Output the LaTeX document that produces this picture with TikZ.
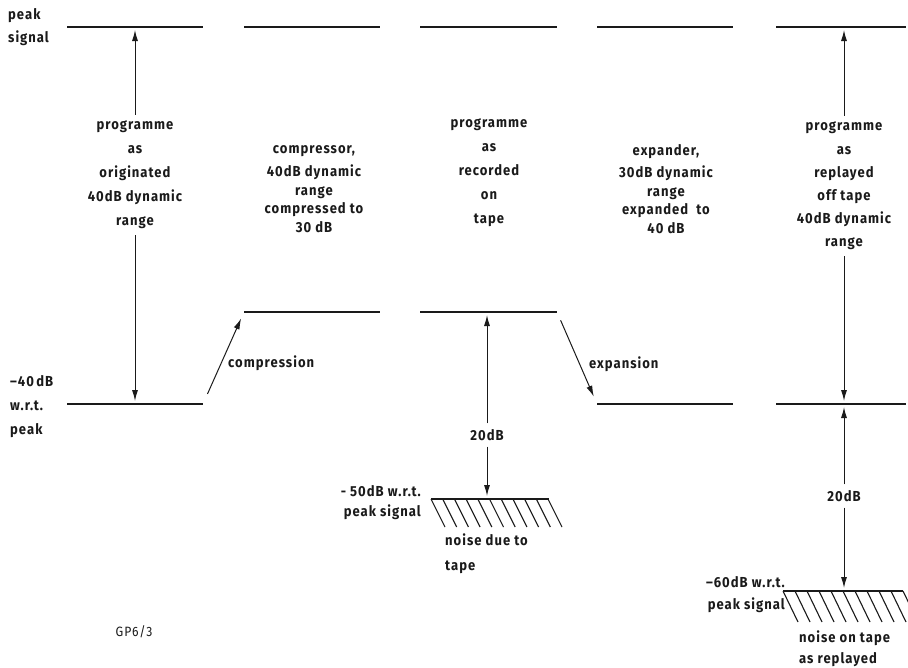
\documentclass[tikz,border=0pt]{standalone}
\usepackage{fontspec}
\setmainfont{Fira Sans}[LetterSpace=7,FakeStretch=0.9]
\usetikzlibrary{arrows.meta,calc}
\definecolor{ink}{HTML}{1A1A1A}
\begin{document}
\begin{tikzpicture}[x=1pt,y=-1pt,
  lvl/.style={draw=ink,line width=1.6pt},
  arr/.style={draw=ink,line width=1pt,-{Latex[length=11pt,width=6pt]}},
  hatch/.style={draw=ink,line width=1.1pt},
  lbl/.style={text=ink,font=\bfseries\fontsize{14.5}{24}\selectfont,inner sep=0pt},
  gap/.style={outer sep=6pt}]
\useasboundingbox (0,0) rectangle (908,667);
% level coordinates
\coordinate (T1a) at (67,27);  \coordinate (T1b) at (203,27);
\coordinate (T2a) at (244,27); \coordinate (T2b) at (380,27);
\coordinate (T3a) at (420,27); \coordinate (T3b) at (557,27);
\coordinate (T4a) at (597,27); \coordinate (T4b) at (733,27);
\coordinate (T5a) at (776,27); \coordinate (T5b) at (906,27);
\coordinate (M2a) at (244,312); \coordinate (M2b) at (380,312);
\coordinate (M3a) at (420,312); \coordinate (M3b) at (557,312);
\coordinate (B1a) at (67,404);  \coordinate (B1b) at (203,404);
\coordinate (B4a) at (597,404); \coordinate (B4b) at (733,404);
\coordinate (B5a) at (776,404); \coordinate (B5b) at (906,404);
\coordinate (N1a) at (431,499); \coordinate (N1b) at (549,499);
\coordinate (N2a) at (783,591); \coordinate (N2b) at (903,591);
\draw[lvl] (T1a) -- (T1b);
\draw[lvl] (T2a) -- (T2b);
\draw[lvl] (T3a) -- (T3b);
\draw[lvl] (T4a) -- (T4b);
\draw[lvl] (T5a) -- (T5b);
\draw[lvl] (M2a) -- (M2b);
\draw[lvl] (M3a) -- (M3b);
\draw[lvl] (B1a) -- (B1b);
\draw[lvl] (B4a) -- (B4b);
\draw[lvl] (B5a) -- (B5b);
% noise hatching
\draw[hatch] (N1a) -- (N1b);
\foreach \i in {0,...,10} \draw[hatch] ($(N1a)+(\i*11.7,0)$) -- ++(14,28);
\draw[hatch] (N2a) -- (N2b);
\foreach \i in {0,...,10} \draw[hatch] ($(N2a)+(\i*12,0)$) -- ++(15,31);
% side labels
\node[lbl,anchor=west,align=left,font=\bfseries\fontsize{14.5}{23}\selectfont] (ps) at (8,27) {peak\\signal};
\node[lbl,anchor=west,align=left] (m40) at (10,407) {–40\,dB\\w.r.t.\\peak};
% column texts
\node[lbl,align=center,gap] (t1) at (135,175) {programme\\as\\originated\\40dB dynamic\\range};
\node[lbl,align=center,font=\bfseries\fontsize{14.5}{18.5}\selectfont] (t2) at (314,189) {compressor,\\[4.5pt]40dB dynamic\\range\\compressed to\\30 dB};
\node[lbl,align=center] (t3) at (489,173) {programme\\as\\recorded\\on\\tape};
\node[lbl,align=center,font=\bfseries\fontsize{14.5}{18.5}\selectfont] (t4) at (666,189) {expander,\\[3.5pt]30dB dynamic\\range\\expanded~ to\\40 dB};
\node[lbl,align=center,gap,font=\bfseries\fontsize{14.5}{23.2}\selectfont] (t5) at (844,186) {programme\\as\\replayed\\off tape\\40dB dynamic\\range};
% column 1 arrows
\draw[arr,shorten >=3pt] (t1.north) -- (t1.north |- T1a);
\draw[arr,shorten >=3pt] (t1.south) -- (t1.south |- B1a);
% column 5 arrows
\draw[arr,shorten >=3pt] (t5.north) -- (t5.north |- T5a);
\draw[arr,shorten >=3pt] (t5.south) -- (t5.south |- B5a);
% compression / expansion
\draw[arr,shorten <=11pt,shorten >=7pt] (B1b) -- (M2a);
\node[lbl,anchor=west] (cmp) at (228,363) {compression};
\draw[arr,shorten <=9pt,shorten >=8pt] (M3b) -- (B4a);
\node[lbl,anchor=west] (exp) at (589,364) {expansion};
% 20 dB arrows
\node[lbl,gap] (d1) at (487,435) {20dB};
\draw[arr,shorten >=3pt] (d1.north) -- (d1.north |- M3a);
\draw[arr,shorten >=3pt] (d1.south) -- (d1.south |- N1a);
\node[lbl,gap] (d2) at (844,496) {20dB};
\draw[arr,shorten >=3pt] (d2.north) -- (d2.north |- B5a);
\draw[arr,shorten >=3pt] (d2.south) -- (d2.south |- N2a);
% noise labels
\node[lbl,anchor=east,align=right,font=\bfseries\fontsize{14.5}{20}\selectfont] (n1) at (421,503) {- 50dB w.r.t.\\peak signal};
\node[lbl,anchor=west,align=left,font=\bfseries\fontsize{14.5}{25}\selectfont] (n1t) at (445,554) {noise due to\\tape};
\node[lbl,anchor=east,align=right,font=\bfseries\fontsize{14.5}{22}\selectfont] (n2) at (785,595) {–60dB w.r.t.\\peak signal};
\node[lbl,anchor=west,align=left,font=\bfseries\fontsize{14.5}{21}\selectfont] (n2t) at (799,649) {noise on tape\\as replayed};
\node[lbl,font=\fontsize{13.5}{15}\selectfont] (gp) at (134,632) {GP6/3};
\end{tikzpicture}
\end{document}
